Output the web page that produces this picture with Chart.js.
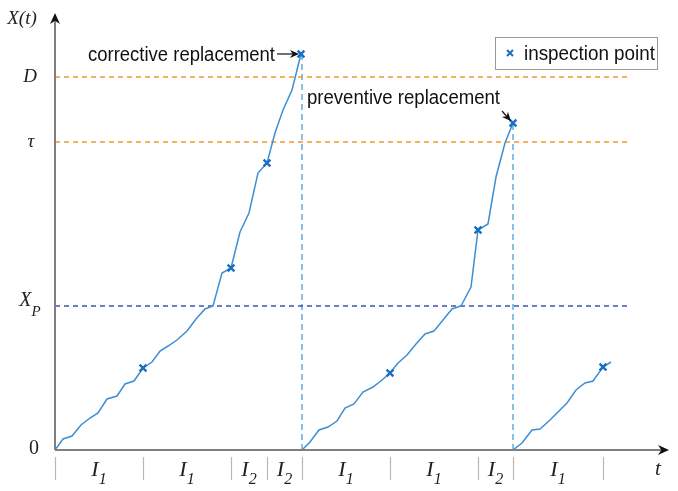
<!DOCTYPE html>
<html>
<head>
<meta charset="utf-8">
<script src="https://cdn.jsdelivr.net/npm/chart.js@4.4.1/dist/chart.umd.min.js"></script>
<style>
  html, body { margin: 0; padding: 0; background: #fff; }
  #wrap { width: 678px; height: 491px; position: relative; }
</style>
</head>
<body>
<div id="wrap"><canvas id="chart"></canvas></div>
<script>
// degradation paths X(t)
const PATH1_T = [0, 0.8, 1.7, 2.6, 3.5, 4.3, 5.2, 6.2, 7.0, 7.9, 8.8, 9.7, 10.5, 11.3, 12.2, 13.2, 14.1, 15.0, 15.8, 16.7, 17.6, 18.5, 19.4, 20.3, 21.2, 22.0, 22.8, 23.7, 24.6];
const PATH1_X = [0, 1.1, 1.4, 2.5, 3.2, 3.7, 5.1, 5.4, 6.6, 6.9, 8.2, 8.8, 9.9, 10.4, 11.0, 11.9, 13.1, 14.1, 14.4, 17.7, 18.2, 21.8, 23.7, 27.7, 28.7, 31.7, 34.0, 36.0, 39.6];
const PATH2_T = [24.7, 25.5, 26.4, 27.3, 28.2, 29.0, 29.9, 30.8, 31.8, 32.7, 33.5, 34.3, 35.2, 36.1, 37.0, 37.9, 38.8, 39.7, 40.6, 41.6, 42.3, 43.3, 44.1, 45.0, 45.8];
const PATH2_X = [0, 0.8, 2.0, 2.3, 2.9, 4.2, 4.6, 5.8, 6.3, 7.0, 7.7, 8.7, 9.5, 10.6, 11.6, 11.9, 13.0, 14.1, 14.4, 16.3, 22.0, 22.6, 27.3, 30.7, 32.7];
const PATH3_T = [45.8, 46.7, 47.7, 48.5, 49.5, 51.2, 52.1, 53.0, 53.8, 54.8, 55.6];
const PATH3_X = [0, 0.7, 2.0, 2.1, 3.0, 4.7, 6.0, 6.7, 6.9, 8.3, 8.8];

// inspection points
const INSPECT_T = [8.8, 17.6, 21.2, 24.6, 33.5, 42.3, 45.8, 54.8];
const INSPECT_X = [8.2, 18.2, 28.7, 39.6, 7.7, 22.0, 32.7, 8.3];

// thresholds
const LEVEL_NAMES = ['D', 'τ', 'X_P', '0'];
const LEVEL_D = 37.3;
const LEVEL_TAU = 30.8;
const LEVEL_XP = 14.4;
const LEVEL_END = 57.2;

// replacement times
const REPLACE_T = [24.7, 45.8];
const REPLACE_X = [39.6, 32.7];

// inspection interval boundaries and labels along the time axis
const TICK_T = [0, 8.8, 17.6, 21.2, 24.7, 33.5, 42.3, 45.8, 54.8];
const INTERVAL_LABELS = ['1', '1', '2', '2', '1', '1', '2', '1'];

const T_MAX = 61;
const X_MAX = 43.5;

const CURVE = '#3d8fd4';
const MARK = '#1a6fbf';
const ORANGE = '#ee9a2e';
const DARKBLUE = '#3c55b4';
const LIGHTBLUE = '#5aa6dc';
const SANS = '"Liberation Sans", Arial, sans-serif';
const SERIF = '"Liberation Serif", "DejaVu Serif", serif';

const pts = (xs, ys) => xs.map((x, i) => ({ x: x, y: ys[i] }));

function curveSet(xs, ys) {
    return {
        type: 'line', data: pts(xs, ys), borderColor: CURVE, borderWidth: 1.5,
        pointRadius: 0, tension: 0, fill: false, order: 2
    };
}
function refLine(data, color, dash) {
    return {
        type: 'line', data: data, borderColor: color, borderWidth: 1.4,
        borderDash: dash, pointRadius: 0, fill: false, order: 3
    };
}

const datasets = [
    refLine([{ x: 0, y: LEVEL_D }, { x: LEVEL_END, y: LEVEL_D }], ORANGE, [5, 4]),
    refLine([{ x: 0, y: LEVEL_TAU }, { x: LEVEL_END, y: LEVEL_TAU }], ORANGE, [5, 4]),
    refLine([{ x: 0, y: LEVEL_XP }, { x: LEVEL_END, y: LEVEL_XP }], DARKBLUE, [5, 4]),
    refLine([{ x: REPLACE_T[0], y: 0 }, { x: REPLACE_T[0], y: REPLACE_X[0] }], LIGHTBLUE, [6, 4]),
    refLine([{ x: REPLACE_T[1], y: 0 }, { x: REPLACE_T[1], y: REPLACE_X[1] }], LIGHTBLUE, [6, 4]),
    curveSet(PATH1_T, PATH1_X),
    curveSet(PATH2_T, PATH2_X),
    curveSet(PATH3_T, PATH3_X),
    {
        type: 'scatter', label: 'inspection point', data: pts(INSPECT_T, INSPECT_X),
        pointStyle: 'crossRot', pointRadius: 4.8, pointBorderWidth: 2.4,
        borderColor: MARK, backgroundColor: MARK, showLine: false, order: 0
    }
];

function arrowHead(ctx, x, y, ang, len) {
    ctx.save();
    ctx.translate(x, y);
    ctx.rotate(ang);
    ctx.beginPath();
    ctx.moveTo(0, 0);
    ctx.lineTo(-len, -len * 0.45);
    ctx.lineTo(-len * 0.7, 0);
    ctx.lineTo(-len, len * 0.45);
    ctx.closePath();
    ctx.fill();
    ctx.restore();
}

// italic main text with a lowered subscript, centred on x
function subText(ctx, main, sub, x, y, size, subSize, drop) {
    ctx.textAlign = 'left';
    ctx.textBaseline = 'middle';
    ctx.font = 'italic ' + size + 'px ' + SERIF;
    const w = ctx.measureText(main).width;
    ctx.font = 'italic ' + subSize + 'px ' + SERIF;
    const ws = ctx.measureText(sub).width;
    const x0 = x - (w + ws) / 2;
    ctx.font = 'italic ' + size + 'px ' + SERIF;
    ctx.fillText(main, x0, y);
    ctx.font = 'italic ' + subSize + 'px ' + SERIF;
    ctx.fillText(sub, x0 + w, y + drop);
}

const decorations = {
    id: 'decorations',
    afterDatasetsDraw(chart) {
        const ctx = chart.ctx;
        const xs = chart.scales.x, ys = chart.scales.y;
        const ox = xs.getPixelForValue(0), oy = ys.getPixelForValue(0);
        ctx.save();

        // axes
        ctx.strokeStyle = '#808080';
        ctx.lineWidth = 2;
        ctx.beginPath();
        ctx.moveTo(ox, oy);
        ctx.lineTo(ox, chart.chartArea.top + 4);
        ctx.moveTo(ox, oy);
        ctx.lineTo(chart.chartArea.right - 2, oy);
        ctx.stroke();
        ctx.fillStyle = '#111';
        arrowHead(ctx, ox, chart.chartArea.top - 2, -Math.PI / 2, 11);
        arrowHead(ctx, chart.chartArea.right + 4, oy, 0, 11);

        // y labels
        ctx.fillStyle = '#222';
        ctx.textBaseline = 'middle';
        ctx.textAlign = 'center';
        ctx.font = 'italic 19px ' + SERIF;
        ctx.fillText('X(t)', 22, chart.chartArea.top + 4);
        ctx.fillText(LEVEL_NAMES[0], 30, ys.getPixelForValue(LEVEL_D));
        ctx.fillText(LEVEL_NAMES[1], 31, ys.getPixelForValue(LEVEL_TAU));
        const xp = LEVEL_NAMES[2].split('_');
        subText(ctx, xp[0], xp[1], 30, ys.getPixelForValue(LEVEL_XP) - 5, 20, 15, 11);
        ctx.font = '20px ' + SERIF;
        ctx.textAlign = 'center';
        ctx.fillText(LEVEL_NAMES[3], 34, oy - 1);

        // inspection tick marks and interval labels
        ctx.strokeStyle = '#b8b8b8';
        ctx.lineWidth = 1.2;
        ctx.beginPath();
        TICK_T.forEach(t => {
            const px = Math.round(xs.getPixelForValue(t)) + 0.5;
            ctx.moveTo(px, oy + 7);
            ctx.lineTo(px, oy + 30);
        });
        ctx.stroke();
        ctx.fillStyle = '#222';
        INTERVAL_LABELS.forEach((s, i) => {
            const mid = xs.getPixelForValue((TICK_T[i] + TICK_T[i + 1]) / 2);
            subText(ctx, 'I', s, mid, oy + 20, 22, 16, 10);
        });
        ctx.font = 'italic 21px ' + SERIF;
        ctx.textAlign = 'center';
        ctx.fillText('t', 658, oy + 19);

        // annotations (the original face is a narrow sans, so squeeze to width)
        ctx.fillStyle = '#111';
        ctx.strokeStyle = '#111';
        ctx.font = '20px ' + SANS;
        ctx.textAlign = 'left';
        const c = { x: xs.getPixelForValue(REPLACE_T[0]), y: ys.getPixelForValue(REPLACE_X[0]) };
        ctx.fillText('corrective replacement', 88, c.y + 1, 187);
        ctx.lineWidth = 1.2;
        ctx.beginPath();
        ctx.moveTo(277, c.y);
        ctx.lineTo(c.x - 6, c.y);
        ctx.stroke();
        arrowHead(ctx, c.x - 3, c.y, 0, 9);

        const p = { x: xs.getPixelForValue(REPLACE_T[1]), y: ys.getPixelForValue(REPLACE_X[1]) };
        ctx.fillText('preventive replacement', 307, 98, 193);
        ctx.beginPath();
        ctx.moveTo(502, 111);
        ctx.lineTo(p.x - 4, p.y - 4);
        ctx.stroke();
        arrowHead(ctx, p.x - 2, p.y - 2, Math.atan2(p.y - 111, p.x - 502), 9);

        // legend
        ctx.fillStyle = '#fff';
        ctx.fillRect(495.5, 37.5, 162, 32);
        ctx.strokeStyle = '#9a9a9a';
        ctx.lineWidth = 1;
        ctx.strokeRect(495.5, 37.5, 162, 32);
        ctx.strokeStyle = MARK;
        ctx.lineWidth = 2;
        ctx.beginPath();
        ctx.moveTo(507, 50); ctx.lineTo(513, 56);
        ctx.moveTo(513, 50); ctx.lineTo(507, 56);
        ctx.stroke();
        ctx.fillStyle = '#111';
        ctx.font = '20px ' + SANS;
        ctx.fillText(chart.data.datasets[8].label, 524, 54, 131);

        ctx.restore();
    }
};

new Chart(document.getElementById('chart'), {
    data: { datasets: datasets },
    options: {
        responsive: true,
        maintainAspectRatio: false,
        animation: false,
        layout: { padding: { left: 55, right: 13, top: 15, bottom: 41 } },
        scales: {
            x: { type: 'linear', min: 0, max: T_MAX, display: false },
            y: { type: 'linear', min: 0, max: X_MAX, display: false }
        },
        plugins: {
            legend: { display: false },
            tooltip: { enabled: false }
        }
    },
    plugins: [decorations]
});
</script>
</body>
</html>
